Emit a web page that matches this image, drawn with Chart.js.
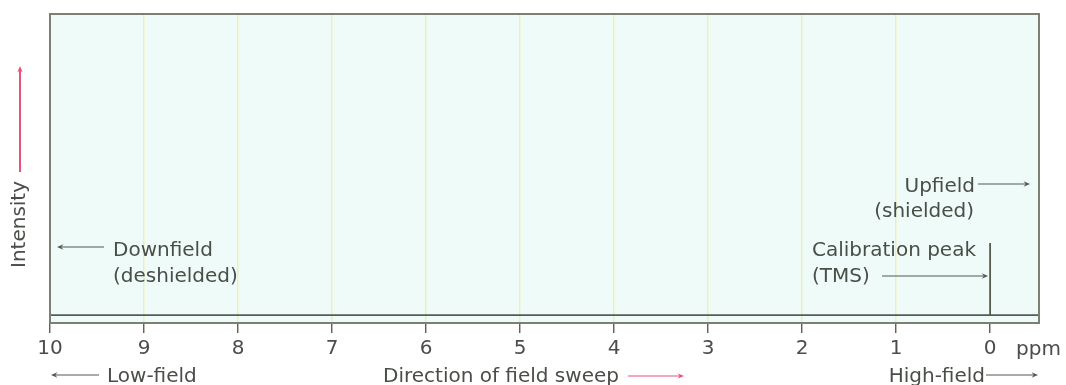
<!DOCTYPE html>
<html>
<head>
<meta charset="utf-8">
<script src="https://cdn.jsdelivr.net/npm/chart.js@4.4.0/dist/chart.umd.min.js"></script>
<style>
  html, body { margin: 0; padding: 0; background: #ffffff; }
  #wrap { width: 1066px; height: 385px; }
</style>
</head>
<body>
<div id="wrap"><canvas id="nmr" width="1066" height="385"></canvas></div>
<script>
// ===== DATA =====
const ppmTicks = [10, 9, 8, 7, 6, 5, 4, 3, 2, 1, 0]
const ppmMin = -0.52
const ppmMax = 10
// spectrum trace: flat baseline with the TMS line at 0 ppm
const traceX = [10, 0, 0, 0, -0.52]
const traceY = [0, 0, 1, 0, 0]
const intensityMin = -0.11
const intensityMax = 4.18

const FONT = '"DejaVu Sans", sans-serif'
const TEXT = '#4a4e48'
const PINK = '#e8537c'

function arrow(ctx, x1, y1, x2, y2, color, width) {
  const ang = Math.atan2(y2 - y1, x2 - x1)
  const head = 7
  ctx.save()
  ctx.strokeStyle = color
  ctx.fillStyle = color
  ctx.lineWidth = width
  ctx.beginPath()
  ctx.moveTo(x1, y1)
  ctx.lineTo(x2 - Math.cos(ang) * 2, y2 - Math.sin(ang) * 2)
  ctx.stroke()
  ctx.beginPath()
  ctx.moveTo(x2, y2)
  ctx.lineTo(x2 - head * Math.cos(ang - 0.4), y2 - head * Math.sin(ang - 0.4))
  ctx.lineTo(x2 - head * 0.6 * Math.cos(ang), y2 - head * 0.6 * Math.sin(ang))
  ctx.lineTo(x2 - head * Math.cos(ang + 0.4), y2 - head * Math.sin(ang + 0.4))
  ctx.closePath()
  ctx.fill()
  ctx.restore()
}

function text(ctx, str, x, y, align) {
  ctx.textAlign = align || 'left'
  ctx.fillText(str, x, y)
}

// ===== PANEL BACKGROUND, FRAME AND LABELS =====
const panelPlugin = {
  id: 'panel',
  beforeDraw(chart) {
    const { ctx, chartArea: a } = chart
    ctx.save()
    ctx.fillStyle = '#effbf9'
    ctx.fillRect(a.left, a.top, a.right - a.left, a.bottom - a.top)
    ctx.restore()
  },
  afterDraw(chart) {
    const { ctx, chartArea: a } = chart
    const x = chart.scales.x
    ctx.save()
    ctx.strokeStyle = '#7b8075'
    ctx.lineWidth = 2
    ctx.strokeRect(a.left, a.top, a.right - a.left, a.bottom - a.top)

    ctx.fillStyle = TEXT
    ctx.font = '20px ' + FONT
    ctx.textBaseline = 'alphabetic'

    // left side notes
    arrow(ctx, 104, 247, 57, 247, '#55594f', 1.2)
    text(ctx, 'Downfield', 113, 256)
    text(ctx, '(deshielded)', 113, 282)

    // right side notes
    text(ctx, 'Upfield', 975, 192, 'right')
    arrow(ctx, 978, 184, 1030, 184, '#55594f', 1.2)
    text(ctx, '(shielded)', 974, 217, 'right')
    text(ctx, 'Calibration peak', 812, 256)
    text(ctx, '(TMS)', 812, 282)
    arrow(ctx, 882, 276, x.getPixelForValue(0) - 2, 276, '#55594f', 1.2)

    // axis unit and footer
    text(ctx, 'ppm', 1016, 355)
    arrow(ctx, 99, 375, 51, 375, '#55594f', 1.2)
    text(ctx, 'Low-field', 107, 382)
    text(ctx, 'Direction of field sweep', 383, 382)
    arrow(ctx, 628, 376, 684, 376, PINK, 1.2)
    text(ctx, 'High-field', 985, 382, 'right')
    arrow(ctx, 986, 375, 1038, 375, '#55594f', 1.2)

    // vertical axis title
    ctx.save()
    ctx.translate(25, 268)
    ctx.rotate(-Math.PI / 2)
    text(ctx, 'Intensity', 0, 0)
    ctx.restore()
    arrow(ctx, 20, 172, 20, 66, PINK, 2)

    ctx.restore()
  }
}

new Chart(document.getElementById('nmr').getContext('2d'), {
  type: 'scatter',
  data: {
    datasets: [{
      data: traceX.map((v, i) => ({ x: v, y: traceY[i] })),
      showLine: true,
      borderColor: '#575c51',
      borderWidth: 1.8,
      pointRadius: 0,
      tension: 0
    }]
  },
  options: {
    responsive: false,
    animation: false,
    events: [],
    layout: { padding: { left: 50, right: 27, top: 14, bottom: 0 } },
    plugins: {
      legend: { display: false },
      tooltip: { enabled: false }
    },
    scales: {
      x: {
        type: 'linear',
        reverse: true,
        min: ppmMin,
        max: ppmMax,
        afterBuildTicks: scale => {
          scale.ticks = ppmTicks.map(v => ({ value: v }))
        },
        afterFit: scale => { scale.height = 62 },
        border: { display: false },
        grid: {
          color: c => (c.tick && c.tick.value > 0 && c.tick.value < 10) ? '#ebefbb' : 'rgba(0,0,0,0)',
          lineWidth: 1.5,
          tickColor: '#4f5449',
          tickLength: 10,
          tickWidth: 1.3
        },
        ticks: {
          color: TEXT,
          padding: 4,
          maxRotation: 0,
          autoSkip: false,
          font: { family: FONT, size: 20 }
        }
      },
      y: {
        display: false,
        min: intensityMin,
        max: intensityMax
      }
    }
  },
  plugins: [panelPlugin]
})
</script>
</body>
</html>
